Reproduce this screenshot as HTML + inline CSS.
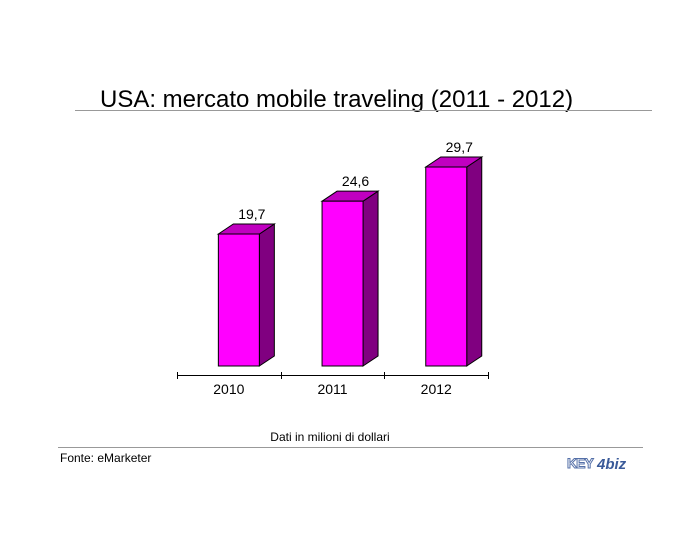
<!DOCTYPE html>
<html><head><meta charset="utf-8"><style>
body{margin:0;background:#fff;width:700px;height:550px;overflow:hidden;font-family:"Liberation Sans",sans-serif}
</style></head><body>
<svg width="700" height="550">
<text x="100" y="107" font-size="24" fill="#000">USA: mercato mobile traveling (2011 - 2012)</text>
<line x1="75" y1="110.5" x2="652" y2="110.5" stroke="#999"/>
<g id="bars"></g>
<line x1="177" y1="375.5" x2="488" y2="375.5" stroke="#000"/>
<g id="ticks"></g>
<text x="330" y="441" font-size="12" text-anchor="middle">Dati in milioni di dollari</text>
<line x1="58" y1="447.5" x2="643" y2="447.5" stroke="#999"/>
<text x="60" y="462" font-size="12">Fonte: eMarketer</text>
<g>
<text x="567" y="468" font-size="14" font-weight="bold" fill="#fff" stroke="#5570a8" stroke-width="1" letter-spacing="-1">KEY</text>
<text x="597" y="469" font-size="15" font-weight="bold" font-style="italic" fill="#3a5a99">4biz</text>
</g>
</svg>
<script>
const categories=["2010","2011","2012"];
const values=[19.7,24.6,29.7];
const labels=["19,7","24,6","29,7"];
const NS="http://www.w3.org/2000/svg";
const y0=366,scale=6.7,x0=177,slot=103.7,bw=41,dx=15,dy=10;
const yS=v=>y0-v*scale;
const xS=i=>x0+slot*i+(slot-bw)/2+10;
function mk(tag,attrs,parent){const e=document.createElementNS(NS,tag);for(const k in attrs)e.setAttribute(k,attrs[k]);parent.appendChild(e);return e;}
const g=document.getElementById('bars');
values.forEach((v,i)=>{
 const x=xS(i),y=yS(v);
 const side=mk('polygon',{points:`${x+bw},${y} ${x+bw+dx},${y-dy} ${x+bw+dx},${y0-dy} ${x+bw},${y0}`,fill:'#800080',stroke:'#000','stroke-width':1},g);
 
 
 const top=mk('polygon',{points:`${x},${y} ${x+dx},${y-dy} ${x+bw+dx},${y-dy} ${x+bw},${y}`,fill:'#c000c0',stroke:'#000','stroke-width':1},g);
 
 
 const r=mk('rect',{x:x,y:y,width:bw,height:y0-y,fill:'#ff00ff',stroke:'#000','stroke-width':1},g);
 
 
 const t=mk('text',{x:x+bw/2+dx-2,y:y-dy-5,'font-size':14,'text-anchor':'middle'},g);
 t.textContent=labels[i];
 
 
});
const tg=document.getElementById('ticks');
for(let i=0;i<=categories.length;i++){
 const tx=Math.round(x0+slot*i)+0.5;
 const tk=mk('line',{x1:tx,y1:372,x2:tx,y2:379,stroke:'#000'},tg);
 
 
}
categories.forEach((c,i)=>{
 const t=mk('text',{x:x0+slot*i+slot/2,y:394,'font-size':14,'text-anchor':'middle'},tg);
 t.textContent=c;
 
 
});
</script>
</body></html>
